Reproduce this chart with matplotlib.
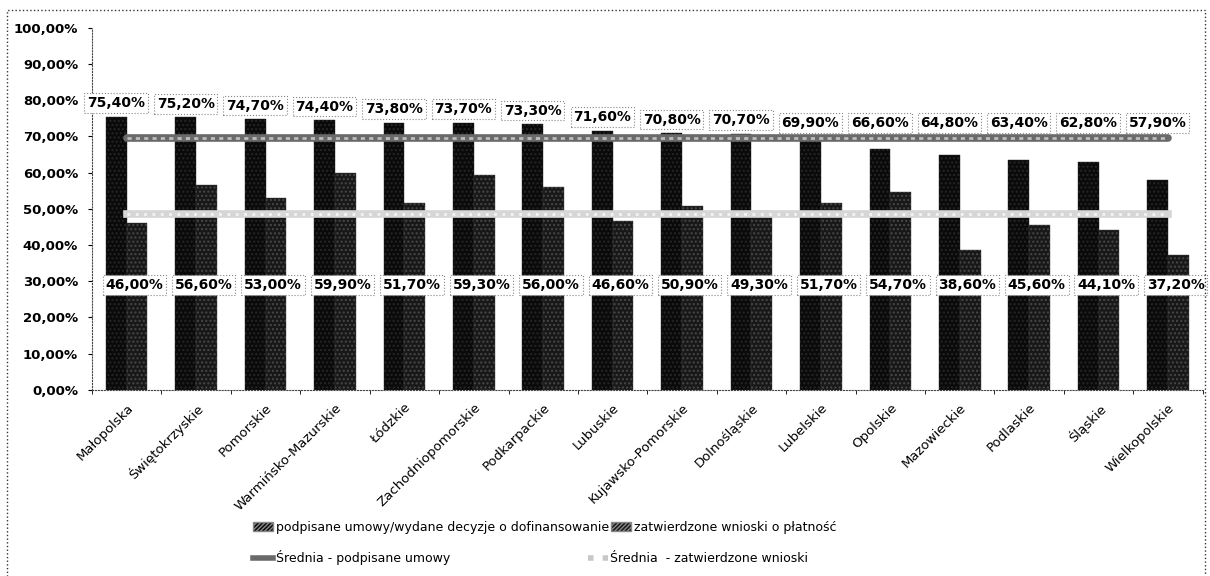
import matplotlib
matplotlib.use("Agg")
import matplotlib.pyplot as plt
import numpy as np
from matplotlib.patches import Patch, Rectangle
from matplotlib.lines import Line2D


# ============================== DATA =================================
regions = ["Małopolska", "Świętokrzyskie", "Pomorskie", "Warmińsko-Mazurskie", "Łódzkie",
           "Zachodniopomorskie", "Podkarpackie", "Lubuskie", "Kujawsko-Pomorskie",
           "Dolnośląskie", "Lubelskie", "Opolskie", "Mazowieckie", "Podlaskie", "Śląskie",
           "Wielkopolskie"]
signed = [75.4, 75.2, 74.7, 74.4, 73.8, 73.7, 73.3, 71.6, 70.8, 70.7, 69.9, 66.6, 64.8,
          63.4, 62.8, 57.9]
approved = [46.0, 56.6, 53.0, 59.9, 51.7, 59.3, 56.0, 46.6, 50.9, 49.3, 51.7, 54.7, 38.6,
            45.6, 44.1, 37.2]
avg_signed = 69.5
avg_approved = 48.6
yticks = [0, 10, 20, 30, 40, 50, 60, 70, 80, 90, 100]

lbl_signed = "podpisane umowy/wydane decyzje o dofinansowanie"
lbl_approved = "zatwierdzone wnioski o płatność"
lbl_avg_signed = "Średnia - podpisane umowy"
lbl_avg_approved = "Średnia  - zatwierdzone wnioski"


def pct(v):
    return f"{v:.2f}%".replace(".", ",")


# ============================== PLOT =================================
fig = plt.figure(figsize=(12.1, 5.76), dpi=100)
ax = fig.add_axes([0.076, 0.323, 0.918, 0.629])

x = np.arange(len(regions))
w = 0.3
ax.bar(x - w / 2, signed, w, color="#0a0a0a", edgecolor="#262626", hatch="....", lw=0.3)
ax.bar(x + w / 2, approved, w, color="#181818", edgecolor="#484848", hatch="....", lw=0.3)

# average lines (thick hatched look)
ax.plot(x, [avg_signed] * len(x), color="#6a6a6a", lw=5.5, solid_capstyle="round", zorder=3)
ax.plot(x, [avg_signed] * len(x), color="#bdbdbd", lw=2, ls=(0, (1.5, 1.5)), zorder=4)
ax.plot(x, [avg_approved] * len(x), color="#d6d6d6", lw=5.5, zorder=3)
ax.plot(x, [avg_approved] * len(x), color="#f4f4f4", lw=2, ls=(0, (1, 2)), zorder=4)

# data labels: top ones kept clear of the average line
box = dict(boxstyle="square,pad=0.2", fc="white", ec="#888888", ls=":", lw=0.8)
for i in range(len(regions)):
    ytop = max(signed[i] + 3.8, avg_signed + 4.2)
    ax.text(x[i] - w / 2, ytop, pct(signed[i]), ha="center", va="center",
            fontsize=10, fontweight="bold", bbox=box, zorder=5)
    ax.text(x[i] + w / 2 - 0.04, 29, pct(approved[i]), ha="center", va="center",
            fontsize=10, fontweight="bold", bbox=box, zorder=5)

ax.set_xlim(-0.5, len(regions) - 0.5)
ax.set_ylim(0, 100)
ax.set_yticks(yticks)
ax.set_yticklabels([pct(v) for v in yticks], fontsize=9.5, fontweight="bold")
ax.set_xticks(x)
ax.set_xticklabels(regions, rotation=45, ha="right", rotation_mode="anchor", fontsize=9.5)
ax.tick_params(axis="x", length=0, pad=8)
ax.tick_params(axis="y", length=3, direction="out", pad=7)
ax.set_xticks(np.arange(len(regions) + 1) - 0.5, minor=True)
ax.tick_params(axis="x", which="minor", length=3)

for s in ["top", "right"]:
    ax.spines[s].set_visible(False)
for s in ["left", "bottom"]:
    ax.spines[s].set_linestyle(":")
    ax.spines[s].set_color("#444444")

# legend: two rows, each its own legend
bar_handles = [Patch(facecolor="#0a0a0a", edgecolor="#888888", hatch="////////"),
               Patch(facecolor="#181818", edgecolor="#888888", hatch="////////")]
line_handles = [Line2D([], [], color="#6a6a6a", lw=4),
                Line2D([], [], color="#c8c8c8", lw=4, ls=":")]
fig.legend(bar_handles, [lbl_signed, lbl_approved], ncol=2, loc="center left",
           bbox_to_anchor=(0.2, 0.085), frameon=False, fontsize=9,
           handlelength=1.6, handletextpad=0.2, columnspacing=0.2)
fig.legend(line_handles, [lbl_avg_signed, lbl_avg_approved], ncol=2, loc="center left",
           bbox_to_anchor=(0.2, 0.032), frameon=False, fontsize=9,
           handlelength=1.6, handletextpad=0.2, columnspacing=11)

fig.patches.append(Rectangle((0.006, -0.01), 0.99, 0.993, transform=fig.transFigure,
                             fill=False, ls=":", lw=1, ec="#333333"))

fig.savefig("out.png", dpi=100)
